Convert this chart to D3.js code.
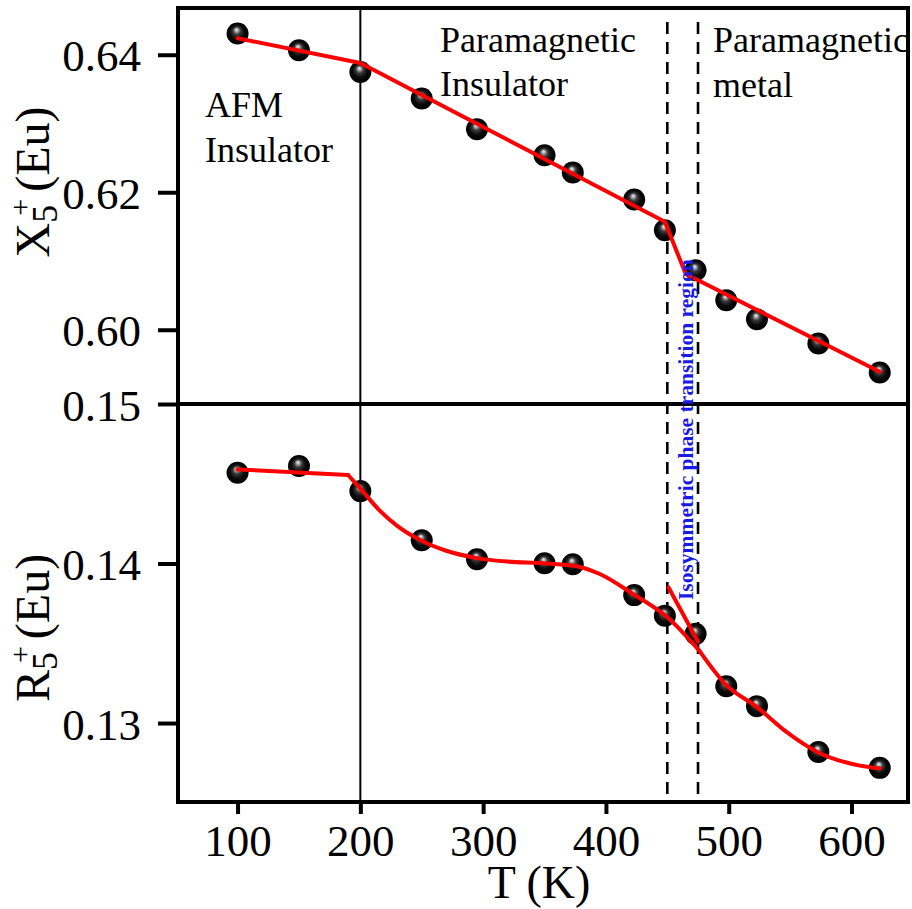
<!DOCTYPE html>
<html>
<head>
<meta charset="utf-8">
<script src="https://cdn.jsdelivr.net/npm/d3@7"></script>
<style>
  html, body { margin: 0; padding: 0; background: #fff; }
  svg { display: block; }
  text { font-family: "Liberation Serif", "Times New Roman", serif; fill: #000; }
</style>
</head>
<body>
<svg id="chart" width="912" height="909"></svg>
<script>
// Temperatures (K) of the measured points
const temps = [100, 150, 200, 250, 295, 350, 373, 423, 448, 473, 498, 523, 573, 623];
// X5+ mode amplitude of Eu
const x5Values = [0.6431, 0.64065, 0.6375, 0.63363, 0.62916, 0.62538, 0.62287, 0.61894, 0.61447, 0.60865, 0.60429, 0.60153, 0.5980, 0.59378];
// R5+ mode amplitude of Eu
const r5Values = [0.14569, 0.14611, 0.14454, 0.14146, 0.14027, 0.14002, 0.13996, 0.13802, 0.13673, 0.13559, 0.13231, 0.13106, 0.12819, 0.12719];

// Guide-to-the-eye lines, X5+ panel (piecewise linear)
const x5FitT = [100, 200, 448, 465, 623];
const x5FitY = [0.6424, 0.6388, 0.6157, 0.6081, 0.5939];

// Guide-to-the-eye lines, R5+ panel
const r5FlatT = [100, 190];
const r5FlatY = [0.1459, 0.14555];
const r5CurveT = [190, 200, 216, 230, 249, 270, 295, 320, 349, 374, 395, 422, 450, 476];
const r5CurveY = [0.14555, 0.1447, 0.1433, 0.14236, 0.14146, 0.1408, 0.14034, 0.14012, 0.14002, 0.13986, 0.13934, 0.13809, 0.13663, 0.13454];
const r5TailT = [476, 497, 523, 547, 572, 599, 623];
const r5TailY = [0.13454, 0.13246, 0.1310, 0.12944, 0.12819, 0.12746, 0.12715];
const r5JumpT = [451, 475];
const r5JumpY = [0.1385, 0.1351];

// Tick labels
const xTicks = [100, 200, 300, 400, 500, 600];
const x5Ticks = [0.60, 0.62, 0.64];
const r5Ticks = [0.13, 0.14, 0.15];

// Phase boundaries (K)
const afmBoundary = 200;
const transitionBounds = [450, 475];

const svg = d3.select("#chart");

const frameL = 178, frameR = 908, frameT = 8, frameM = 404, frameB = 802;

const x = d3.scaleLinear().domain([51.5, 646]).range([frameL, frameR]);
const yTop = d3.scaleLinear().domain([0.5892, 0.6468]).range([frameM, frameT]);
const yBot = d3.scaleLinear().domain([0.12505, 0.15]).range([frameB, frameM]);

// sphere-look marker fill
const defs = svg.append("defs");
const grad = defs.append("radialGradient").attr("id", "ball")
  .attr("cx", "50%").attr("cy", "50%").attr("r", "50%")
  .attr("fx", "45%").attr("fy", "32%");
[["0%", "#f4f4f4"], ["14%", "#b0b0b0"], ["35%", "#3a3a3a"], ["65%", "#0a0a0a"], ["100%", "#000"]]
  .forEach(([o, c]) => grad.append("stop").attr("offset", o).attr("stop-color", c));

// Axes
function styleAxis(g) {
  g.select(".domain").remove();
  g.attr("font-family", null).attr("font-size", null);
  g.selectAll(".tick line").attr("stroke", "#000").attr("stroke-width", 4);
  g.selectAll(".tick text").attr("font-size", 45)
    .attr("font-family", "Liberation Serif, Times New Roman, serif").attr("fill", "#000");
}

svg.append("g").attr("transform", `translate(0,${frameB})`)
  .call(d3.axisBottom(x).tickValues(xTicks).tickFormat(d3.format("d")).tickSize(12).tickPadding(10))
  .call(styleAxis);

svg.append("g").attr("transform", `translate(${frameL},0)`)
  .call(d3.axisLeft(yTop).tickValues(x5Ticks).tickFormat(d3.format(".2f")).tickSize(20).tickPadding(17))
  .call(styleAxis)
  .call(g => g.selectAll(".tick text").attr("dy", "0.36em"));

svg.append("g").attr("transform", `translate(${frameL},0)`)
  .call(d3.axisLeft(yBot).tickValues(r5Ticks).tickFormat(d3.format(".2f")).tickSize(20).tickPadding(17))
  .call(styleAxis)
  .call(g => g.selectAll(".tick text").attr("dy", "0.36em"));

// Phase boundary lines
svg.append("line")
  .attr("x1", x(afmBoundary)).attr("x2", x(afmBoundary))
  .attr("y1", frameT).attr("y2", frameB)
  .attr("stroke", "#000").attr("stroke-width", 2);

svg.selectAll(".tb").data(transitionBounds).join("line")
  .attr("class", "tb")
  .attr("x1", d => x(d)).attr("x2", d => x(d))
  .attr("y1", frameT + 14).attr("y2", frameB)
  .attr("stroke", "#000").attr("stroke-width", 2.6)
  .attr("stroke-dasharray", "12,8");

// Frame and panel divider
svg.append("rect")
  .attr("x", frameL).attr("y", frameT).attr("width", frameR - frameL).attr("height", frameB - frameT)
  .attr("fill", "none").attr("stroke", "#000").attr("stroke-width", 4);
svg.append("line")
  .attr("x1", frameL).attr("x2", frameR).attr("y1", frameM).attr("y2", frameM)
  .attr("stroke", "#000").attr("stroke-width", 4);

// Data points
const topPts = temps.map((t, i) => [t, x5Values[i]]);
const botPts = temps.map((t, i) => [t, r5Values[i]]);

svg.append("g").selectAll("circle").data(topPts).join("circle")
  .attr("cx", d => x(d[0])).attr("cy", d => yTop(d[1])).attr("r", 11)
  .attr("fill", "url(#ball)");
svg.append("g").selectAll("circle").data(botPts).join("circle")
  .attr("cx", d => x(d[0])).attr("cy", d => yBot(d[1])).attr("r", 11)
  .attr("fill", "url(#ball)");

// Guide lines
function drawLine(ts, ys, yScale, curve) {
  const pts = ts.map((t, i) => [t, ys[i]]);
  svg.append("path")
    .attr("d", d3.line().x(d => x(d[0])).y(d => yScale(d[1])).curve(curve)(pts))
    .attr("fill", "none").attr("stroke", "#ff0000").attr("stroke-width", 4)
    .attr("stroke-linejoin", "round").attr("stroke-linecap", "round");
}
drawLine(x5FitT, x5FitY, yTop, d3.curveLinear);
drawLine(r5FlatT, r5FlatY, yBot, d3.curveLinear);
drawLine(r5CurveT, r5CurveY, yBot, d3.curveMonotoneX);
drawLine(r5TailT, r5TailY, yBot, d3.curveMonotoneX);
drawLine(r5JumpT, r5JumpY, yBot, d3.curveLinear);

// Phase annotations
const notes = [
  ["AFM", 205, 117], ["Insulator", 205, 162],
  ["Paramagnetic", 440, 52], ["Insulator", 440, 96],
  ["Paramagnetic", 713, 52], ["metal", 713, 97]
];
svg.append("g").selectAll("text").data(notes).join("text")
  .attr("x", d => d[1]).attr("y", d => d[2])
  .attr("font-size", 36)
  .text(d => d[0]);

svg.append("text")
  .attr("transform", `translate(693,600) rotate(-90)`)
  .attr("font-size", 21.5).attr("font-weight", "bold")
  .style("fill", "#1a1ae6")
  .text("Isosymmetric phase transition region");

// Axis titles
function yTitle(letter, cx, cy) {
  const t = svg.append("text")
    .attr("transform", `translate(${cx},${cy}) rotate(-90)`)
    .attr("text-anchor", "middle")
    .attr("font-size", 48);
  t.append("tspan").text(letter);
  t.append("tspan").attr("font-size", 36).attr("dy", 8).text("5");
  t.append("tspan").attr("font-size", 30).attr("dx", -11).attr("dy", -27).text("+");
  t.append("tspan").attr("dx", 7).attr("dy", 19).text("(Eu)");
}
yTitle("X", 49, 182);
yTitle("R", 49, 628);

svg.append("text")
  .attr("x", 539).attr("y", 898)
  .attr("text-anchor", "middle")
  .attr("font-size", 46)
  .text("T (K)");
</script>
</body>
</html>
